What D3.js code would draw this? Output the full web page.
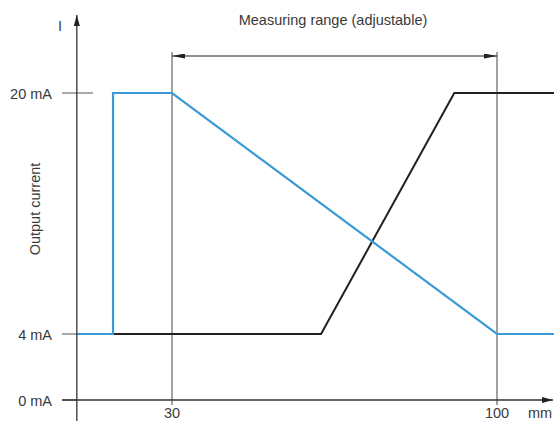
<!DOCTYPE html>
<html>
<head>
<meta charset="utf-8">
<script src="https://cdn.jsdelivr.net/npm/d3@7"></script>
<style>
  body { margin: 0; background: #fff; }
  svg text { font-family: "Liberation Sans", Arial, sans-serif; fill: #3a3a3a; }
</style>
</head>
<body>
<svg width="554" height="421"></svg>
<script>
// data (mm, mA)
var xTicks = [30, 100];
var yTicks = [0, 4, 20];
var xStart = 9.5, xEnd = 112.3;
var blueX = [xStart, 17.3, 17.3, 30, 100, xEnd];
var blueY = [4, 4, 20, 20, 4, 4];
var blackX = [17.3, 62.1, 90.8, xEnd];
var blackY = [4, 4, 20, 20];
var rangeLabel = "Measuring range (adjustable)";

var svg = d3.select("svg");
var fs = 14.5;

// x linear, y axis is broken (0..4 squeezed differently than 4..20)
var x = d3.scaleLinear().domain([30, 100]).range([172, 497]);
var y = d3.scaleLinear().domain([0, 4, 20]).range([400, 334, 93]);
var x0 = x(xStart);

var defs = svg.append("defs");
function arrow(id, w, h) {
    defs.append("marker")
        .attr("id", id)
        .attr("viewBox", "0 0 " + w + " " + h)
        .attr("refX", w).attr("refY", h / 2)
        .attr("markerWidth", w).attr("markerHeight", h)
        .attr("markerUnits", "userSpaceOnUse")
        .attr("orient", "auto-start-reverse")
        .append("path")
        .attr("d", "M0,0L" + w + "," + h / 2 + "L0," + h + "Z")
        .attr("fill", "#222");
}
arrow("ax", 11, 6);
arrow("rg", 13, 5);

// tick lines on y
svg.selectAll("line.ytick")
    .data(yTicks)
    .enter().append("line")
    .attr("class", "ytick")
    .attr("x1", 62)
    .attr("x2", function (d) { return d == 20 ? 93 : x0; })
    .attr("y1", function (d) { return y(d); })
    .attr("y2", function (d) { return y(d); })
    .attr("stroke", "#555").attr("stroke-width", 1);

svg.selectAll("text.ytick")
    .data(yTicks)
    .enter().append("text")
    .attr("class", "ytick")
    .attr("x", 52)
    .attr("y", function (d) { return y(d) + 5.5; })
    .attr("text-anchor", "end")
    .attr("font-size", fs)
    .text(function (d) { return d + " mA"; });

// verticals at 30 / 100
svg.selectAll("line.xtick")
    .data(xTicks)
    .enter().append("line")
    .attr("class", "xtick")
    .attr("x1", function (d) { return x(d); })
    .attr("x2", function (d) { return x(d); })
    .attr("y1", 52).attr("y2", 405)
    .attr("stroke", "#444").attr("stroke-width", 1);

svg.selectAll("text.xtick")
    .data(xTicks)
    .enter().append("text")
    .attr("class", "xtick")
    .attr("x", function (d) { return x(d); })
    .attr("y", 417.5)
    .attr("text-anchor", "middle")
    .attr("font-size", fs)
    .text(function (d) { return d; });

svg.append("text")
    .attr("x", 540).attr("y", 417.5)
    .attr("text-anchor", "middle")
    .attr("font-size", fs)
    .text("mm");

// measuring range dimension
svg.append("line")
    .attr("x1", x(30)).attr("x2", x(100))
    .attr("y1", 56).attr("y2", 56)
    .attr("stroke", "#222").attr("stroke-width", 1)
    .attr("marker-start", "url(#rg)")
    .attr("marker-end", "url(#rg)");

svg.append("text")
    .attr("x", 333).attr("y", 25)
    .attr("text-anchor", "middle")
    .attr("font-size", fs)
    .text(rangeLabel);

// curves
var line = d3.line()
    .x(function (d) { return x(d[0]); })
    .y(function (d) { return y(d[1]); });

svg.append("path")
    .datum(d3.zip(blackX, blackY))
    .attr("d", line)
    .attr("fill", "none")
    .attr("stroke", "#231f20").attr("stroke-width", 2);

svg.append("path")
    .datum(d3.zip(blueX, blueY))
    .attr("d", line)
    .attr("fill", "none")
    .attr("stroke", "#3a9ad6").attr("stroke-width", 2.2);

// axes
svg.append("line")
    .attr("x1", 62).attr("x2", 553)
    .attr("y1", y(0)).attr("y2", y(0))
    .attr("stroke", "#333").attr("stroke-width", 1.3)
    .attr("marker-end", "url(#ax)");

svg.append("line")
    .attr("x1", x0).attr("x2", x0)
    .attr("y1", 421).attr("y2", 15)
    .attr("stroke", "#333").attr("stroke-width", 1.3)
    .attr("marker-end", "url(#ax)");

svg.append("text")
    .attr("x", 60).attr("y", 31)
    .attr("text-anchor", "middle")
    .attr("font-size", fs)
    .text("I");

svg.append("text")
    .attr("transform", "translate(40,209) rotate(-90)")
    .attr("text-anchor", "middle")
    .attr("font-size", fs)
    .text("Output current");
</script>
</body>
</html>
